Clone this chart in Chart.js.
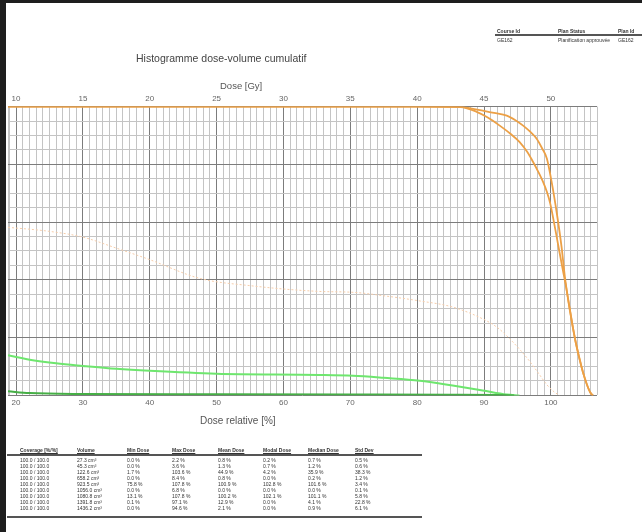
<!DOCTYPE html>
<html>
<head>
<meta charset="utf-8">
<script src="https://cdn.jsdelivr.net/npm/chart.js@4"></script>
<style>
  body { margin: 0; width: 642px; height: 532px; background: #fff; position: relative; overflow: hidden;
         font-family: "Liberation Sans", Arial, sans-serif; color: #444; }
  #wrap { position: absolute; left: 0; top: 0; width: 642px; height: 532px; }
  .lbl { position: absolute; white-space: nowrap; }
  .rule { position: absolute; height: 2px; background: #555; }
  #leftbar { position: absolute; left: 0; top: 0; width: 6px; height: 532px; background: #1e1e1e; }
  #topbar { position: absolute; left: 0; top: 0; width: 642px; height: 3px; background: #1e1e1e; }
  table { border-collapse: collapse; position: absolute; font-size: 5px; color: #333; table-layout: fixed; }
  th { text-align: left; text-decoration: underline; font-weight: bold; padding: 0; line-height: 6px; white-space: nowrap; overflow: visible; }
  td { padding: 0; line-height: 6px; white-space: nowrap; overflow: visible; }
  #hdr { left: 497px; top: 28px; width: 145px; }
  #hdr th { padding-bottom: 3px; }
  #stats { left: 20px; top: 447px; width: 402px; }
  #stats th { padding-bottom: 4px; }
</style>
</head>
<body>
<div id="wrap"><canvas id="dvh" width="642" height="532"></canvas></div>
<div id="topbar"></div>
<div id="leftbar"></div>
<div class="lbl" style="left:136px;top:52px;font-size:10.5px;">Histogramme dose-volume cumulatif</div>
<div class="lbl" style="left:220px;top:80px;font-size:9.5px;color:#555;">Dose [Gy]</div>
<div class="lbl" style="left:200px;top:415px;font-size:10px;color:#555;">Dose relative [%]</div>

<table id="hdr">
  <colgroup><col style="width:61px"><col style="width:60px"><col style="width:24px"></colgroup>
  <tr><th>Course Id</th><th>Plan Status</th><th>Plan Id</th></tr>
  <tr><td>GE162</td><td>Planification approuvée</td><td>GE162</td></tr>
</table>
<div class="rule" style="left:495px;top:34px;width:147px;"></div>

<table id="stats">
  <colgroup>
    <col style="width:57px"><col style="width:50px"><col style="width:45px"><col style="width:46px">
    <col style="width:45px"><col style="width:45px"><col style="width:47px"><col style="width:67px">
  </colgroup>
  <thead>
    <tr><th>Coverage [%/%]</th><th>Volume</th><th>Min Dose</th><th>Max Dose</th><th>Mean Dose</th><th>Modal Dose</th><th>Median Dose</th><th>Std Dev</th></tr>
  </thead>
  <tbody id="statsBody"></tbody>
</table>
<div class="rule" style="left:7px;top:454px;width:415px;"></div>
<div class="rule" style="left:7px;top:516px;width:415px;"></div>

<script>
// dose axis limits (relative % on bottom, Gy on top)
const relMin = 18.8;
const relMax = 106.9;
const prescription = 50; // Gy at 100 %

const gyTicks = [10, 15, 20, 25, 30, 35, 40, 45, 50];

// PTV curves (orange)
const ptvADose = [18.8, 60, 80, 86.5, 88.9, 90.5, 92.3, 94, 95.3, 96.4, 97.3, 98.1, 98.8, 99.4, 99.9, 100.5, 101.1, 101.7, 102.2, 102.9, 103.6, 104.3, 104.8, 105.4, 105.9, 106.3];
const ptvAVol  = [100, 100, 100, 99.8, 98.2, 96.3, 93.5, 90.5, 87.8, 84.5, 81, 77.5, 74.1, 70.5, 66.5, 59.5, 52, 44.5, 38.5, 29, 19.7, 12.5, 8, 3.7, 1, 0];
const ptvBDose = [18.8, 60, 80, 86.5, 88, 89.8, 91.5, 93.4, 94.7, 95.8, 96.9, 97.9, 98.7, 99.4, 100.1, 100.9, 101.6, 102.1, 102.8, 103.6, 104.3, 104.8, 105.4, 105.9, 106.3];
const ptvBVol  = [100, 100, 100, 99.9, 99.4, 98.6, 97.8, 96.9, 95.3, 93.5, 91.3, 88.8, 85.5, 82, 74.1, 62.9, 51.4, 41, 30, 19.7, 12.5, 8, 3.7, 1, 0];

// faint peach dotted curve
const peachDose = [18.8, 25, 30, 35, 40, 47.5, 55, 65.4, 70.4, 75, 80.4, 85.3, 89.8, 92, 93.8, 95.5, 96.8, 98.2, 99.4, 100.5, 101.3];
const peachVol  = [58.2, 56.8, 54.8, 51, 47, 40.5, 38, 36, 35.7, 34.5, 32.7, 30.6, 26.5, 23.5, 19.7, 15.5, 11.9, 7.5, 3.7, 1.2, 0];

// bright green curve
const greenDose = [18.8, 22.5, 26, 30, 35, 40, 50, 65.4, 70.4, 75, 80.4, 85.3, 89.8, 93.4, 95.3];
const greenVol  = [13.9, 12.2, 11.1, 10.2, 9.2, 8.5, 7.5, 7.1, 6.8, 6.1, 5.1, 3.4, 1.7, 0.3, 0];

// dark green curve along the bottom
const darkDose = [18.8, 22, 30, 50, 70, 85, 92, 94.5];
const darkVol  = [1.4, 0.8, 0.5, 0.4, 0.3, 0.2, 0.1, 0];

// stats table
const statsRows = [
  ['100.0 / 100.0', '27.3 cm³', '0.0 %', '2.2 %', '0.8 %', '0.2 %', '0.7 %', '0.5 %'],
  ['100.0 / 100.0', '45.3 cm³', '0.0 %', '3.6 %', '1.3 %', '0.7 %', '1.2 %', '0.6 %'],
  ['100.0 / 100.0', '122.6 cm³', '1.7 %', '103.6 %', '44.9 %', '4.2 %', '35.9 %', '38.3 %'],
  ['100.0 / 100.0', '658.2 cm³', '0.0 %', '8.4 %', '0.8 %', '0.0 %', '0.2 %', '1.2 %'],
  ['100.0 / 100.0', '923.5 cm³', '75.8 %', '107.8 %', '100.9 %', '102.8 %', '101.6 %', '3.4 %'],
  ['100.0 / 100.0', '1056.0 cm³', '0.0 %', '6.8 %', '0.0 %', '0.0 %', '0.0 %', '0.1 %'],
  ['100.0 / 100.0', '1080.8 cm³', '13.1 %', '107.8 %', '100.2 %', '102.1 %', '101.1 %', '5.8 %'],
  ['100.0 / 100.0', '1391.8 cm³', '0.1 %', '97.1 %', '12.9 %', '0.0 %', '4.1 %', '22.8 %'],
  ['100.0 / 100.0', '1436.2 cm³', '0.0 %', '94.6 %', '2.1 %', '0.0 %', '0.9 %', '6.1 %']
];

const tbody = document.getElementById('statsBody');
statsRows.forEach(r => {
  const row = tbody.insertRow();
  r.forEach(v => { row.insertCell().textContent = v; });
});

function pts(xs, ys) {
  return xs.map((x, i) => ({ x: x, y: ys[i] }));
}

function curve(label, xs, ys, color, width, dash) {
  return {
    label,
    data: pts(xs, ys),
    borderColor: color,
    borderWidth: width,
    borderDash: dash || [],
    pointRadius: 0,
    fill: false,
    cubicInterpolationMode: 'monotone',
    xAxisID: 'x',
    yAxisID: 'y'
  };
}

const isMajor = (v, step) => Math.abs(v - Math.round(v / step) * step) < 1e-6;

new Chart(document.getElementById('dvh'), {
  type: 'line',
  data: {
    datasets: [
      curve('Dark', darkDose, darkVol, 'rgb(70,175,70)', 2),
      curve('Green', greenDose, greenVol, 'rgb(110,230,110)', 2),
      curve('Peach', peachDose, peachVol, 'rgb(246,205,170)', 1, [2, 2]),
      curve('PTV A', ptvADose, ptvAVol, 'rgb(236,160,70)', 1.8),
      curve('PTV B', ptvBDose, ptvBVol, 'rgb(236,160,70)', 1.8)
    ]
  },
  options: {
    responsive: false,
    animation: false,
    layout: { padding: { left: 8, right: 45, top: 91, bottom: 121 } },
    plugins: { legend: { display: false }, tooltip: { enabled: false } },
    scales: {
      x: {
        type: 'linear',
        position: 'bottom',
        min: relMin,
        max: relMax,
        afterBuildTicks: axis => {
          const t = [{ value: relMin }];
          for (let v = 19; v <= 106; v++) t.push({ value: v });
          t.push({ value: relMax });
          axis.ticks = t;
        },
        ticks: {
          autoSkip: false,
          maxRotation: 0,
          padding: 3,
          color: '#666',
          font: { family: 'Liberation Sans', size: 8 },
          callback: v => isMajor(v, 10) ? String(v) : ''
        },
        grid: {
          drawTicks: false,
          color: c => (c.tick && isMajor(c.tick.value, 10)) ? '#7c7c7c' : '#c4c4c4',
          lineWidth: 1
        },
        border: { display: false }
      },
      x2: {
        type: 'linear',
        position: 'top',
        min: relMin * prescription / 100,
        max: relMax * prescription / 100,
        afterBuildTicks: axis => { axis.ticks = gyTicks.map(v => ({ value: v })); },
        ticks: {
          autoSkip: false,
          maxRotation: 0,
          padding: 3,
          color: '#666',
          font: { family: 'Liberation Sans', size: 8 }
        },
        grid: { display: false, drawTicks: false },
        border: { display: false }
      },
      y: {
        type: 'linear',
        min: 0,
        max: 100,
        afterBuildTicks: axis => {
          const t = [];
          for (let v = 0; v <= 100; v += 5) t.push({ value: v });
          axis.ticks = t;
        },
        ticks: { display: false },
        grid: {
          drawTicks: false,
          color: c => (c.tick && isMajor(c.tick.value, 20)) ? '#7c7c7c' : '#c4c4c4',
          lineWidth: 1
        },
        border: { display: false }
      }
    }
  }
});
</script>
</body>
</html>
